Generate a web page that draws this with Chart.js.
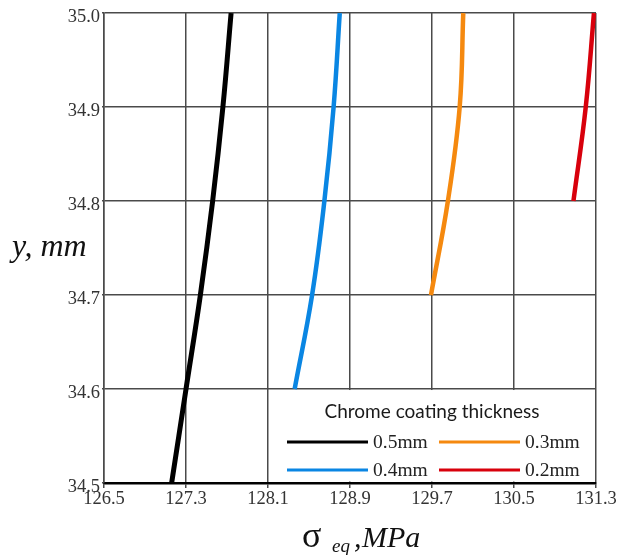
<!DOCTYPE html>
<html>
<head>
<meta charset="utf-8">
<script src="https://cdn.jsdelivr.net/npm/chart.js@4.4.1/dist/chart.umd.min.js"></script>
<style>
  html, body { margin: 0; padding: 0; background: #fff; }
  #wrap { position: relative; width: 627px; height: 555px; }
</style>
</head>
<body>
<div id="wrap"><canvas id="c"></canvas></div>
<script>
// ---- data ----
const xTicks = [126.5, 127.3, 128.1, 128.9, 129.7, 130.5, 131.3];
const yTicks = [34.5, 34.6, 34.7, 34.8, 34.9, 35.0];

const seriesLabels = ['0.5mm', '0.4mm', '0.3mm', '0.2mm'];
const seriesColors = ['#000000', '#0a86e3', '#f5890f', '#d8000c'];

// depth y (mm) and equivalent stress (MPa) for each coating thickness
const y05 = [34.5, 34.6, 34.7, 34.8, 34.9, 35.0];
const s05 = [127.16, 127.30, 127.44, 127.56, 127.66, 127.74];

const y04 = [34.6, 34.7, 34.8, 34.9, 35.0];
const s04 = [128.36, 128.53, 128.65, 128.74, 128.80];

const y03 = [34.7, 34.8, 34.9, 35.0];
const s03 = [129.69, 129.855, 129.97, 130.005];

const y02 = [34.8, 34.9, 35.0];
const s02 = [131.08, 131.20, 131.28];

const legendTitle = 'Chrome coating thickness';
const xTitleMain = 'σ';
const xTitleSub = 'eq';
const xTitleComma = ',';
const xTitleUnit = 'MPa';
const yTitle = 'y, mm';

const allY = [y05, y04, y03, y02];
const allS = [s05, s04, s03, s02];
const widths = [5, 4.5, 4.5, 4.5];

const datasets = seriesLabels.map((lab, i) => ({
  label: lab,
  data: allS[i].map((s, k) => ({ x: s, y: allY[i][k] })),
  borderColor: seriesColors[i],
  backgroundColor: seriesColors[i],
  borderWidth: widths[i],
  pointRadius: 0,
  showLine: true,
  fill: false,
  tension: 0.4,
  borderCapStyle: 'butt'
}));

const serif = "'Liberation Serif', 'DejaVu Serif', serif";

const decorPlugin = {
  id: 'decor',
  afterDraw(chart) {
    const ctx = chart.ctx;
    const xs = chart.scales.x, ys = chart.scales.y;
    const ca = chart.chartArea;
    // legend box covering the lower-right cell block
    const x0 = xs.getPixelForValue(128.1);
    const y0 = ys.getPixelForValue(34.6);
    ctx.save();
    ctx.fillStyle = '#ffffff';
    ctx.fillRect(x0 + 1, y0 + 1, ca.right - x0 - 2, ca.bottom - y0 - 2.5);
    ctx.fillStyle = '#1a1a1a';
    ctx.font = "19px Lato, 'Open Sans', sans-serif";
    ctx.textAlign = 'center';
    ctx.textBaseline = 'middle';
    ctx.fillText(legendTitle, (x0 + ca.right) / 2, y0 + 23);
    const rows = [y0 + 53, y0 + 81];
    const cols = [x0 + 19, x0 + 171];
    ctx.font = "19.5px " + serif;
    ctx.textAlign = 'left';
    chart.data.datasets.forEach((ds, i) => {
      const col = i < 2 ? 0 : 1;
      const row = i % 2;
      const lx = cols[col], ly = rows[row];
      ctx.strokeStyle = ds.borderColor;
      ctx.lineWidth = 3;
      ctx.beginPath();
      ctx.moveTo(lx, ly);
      ctx.lineTo(lx + 81, ly);
      ctx.stroke();
      ctx.fillStyle = '#222';
      ctx.fillText(ds.label, lx + 86, ly + 1);
    });
    // y axis title
    ctx.font = "italic 32px " + serif;
    ctx.textAlign = 'left';
    ctx.textBaseline = 'alphabetic';
    ctx.fillStyle = '#111';
    ctx.fillText(yTitle, 12, 256);
    // x axis title with subscript
    const base = 547;
    ctx.font = "36px " + serif;
    ctx.fillText(xTitleMain, 302, base);
    ctx.font = "italic 19px " + serif;
    ctx.fillText(xTitleSub, 332, base + 5);
    ctx.font = "italic 30px " + serif;
    ctx.fillText(xTitleComma, 354, base);
    ctx.fillText(xTitleUnit, 362, base);
    ctx.restore();
  }
};

new Chart(document.getElementById('c'), {
  type: 'scatter',
  data: { datasets },
  plugins: [decorPlugin],
  options: {
    responsive: true,
    maintainAspectRatio: false,
    animation: false,
    layout: { padding: { left: 0, top: 12, right: 31, bottom: 0 } },
    plugins: { legend: { display: false }, tooltip: { enabled: false } },
    scales: {
      x: {
        type: 'linear',
        min: 126.5, max: 131.3,
        afterBuildTicks: (s) => { s.ticks = xTicks.map(v => ({ value: v })); },
        afterFit: (s) => { s.height = 72; },
        ticks: {
          callback: (v) => Number(v).toFixed(1),
          font: { family: serif, size: 18.5 },
          color: '#333',
          padding: 0,
          maxRotation: 0,
          autoSkip: false
        },
        grid: { color: '#4a4a4a', lineWidth: 1.5, tickLength: 5, drawTicks: true },
        border: { color: '#000', width: 2.5 }
      },
      y: {
        type: 'linear',
        min: 34.5, max: 35.0,
        afterBuildTicks: (s) => { s.ticks = yTicks.map(v => ({ value: v })); },
        afterFit: (s) => { s.width = 104; },
        ticks: {
          callback: (v) => Number(v).toFixed(1),
          font: { family: serif, size: 18.5 },
          color: '#333',
          padding: 2,
          labelOffset: 4
        },
        grid: { color: '#4a4a4a', lineWidth: 1.5, tickLength: 2 },
        border: { color: '#4a4a4a', width: 1.5 }
      }
    }
  }
});
</script>
</body>
</html>
